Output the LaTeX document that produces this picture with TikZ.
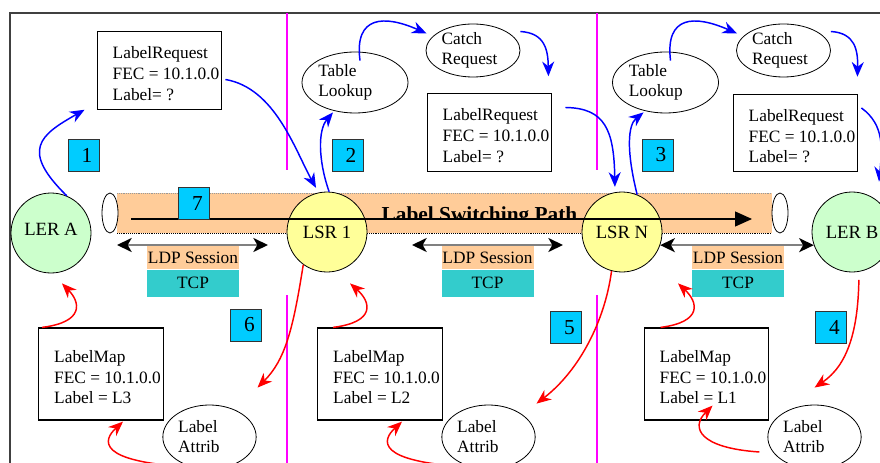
\documentclass[tikz,border=0pt]{standalone}
\usepackage{fontspec}
\setmainfont{Liberation Serif}
\usetikzlibrary{shapes.geometric, arrows.meta, positioning, calc}
\definecolor{lspfill}{HTML}{FFCC99}
\definecolor{numfill}{HTML}{00CCFF}
\definecolor{tcpfill}{HTML}{33CCCC}
\definecolor{lerfill}{HTML}{CCFFCC}
\definecolor{lsrfill}{HTML}{FFFF99}
\definecolor{sepcolor}{HTML}{FF00FF}
\definecolor{reqcolor}{HTML}{0000FF}
\definecolor{mapcolor}{HTML}{FF0000}
\newcommand{\msglines}[1]{\hspace{9.75pt}\begin{tabular}{@{}l@{}}\rule{0pt}{18.3pt}#1\end{tabular}}

\begin{document}
\begin{tikzpicture}[
    x=0.75pt, y=-0.75pt,
    font=\fontsize{13}{15.5}\selectfont,
    ler/.style={circle, draw, line width=0.6pt, fill=lerfill, minimum size=60pt, inner sep=0pt, font=\fontsize{14}{16}\selectfont},
    lsr/.style={circle, draw, line width=0.6pt, fill=lsrfill, minimum size=60pt, inner sep=0pt, font=\fontsize{14}{16}\selectfont},
    msgbox/.style={rectangle, draw, line width=0.9pt, fill=white, minimum width=93.5pt, minimum height=#1, inner sep=0pt},
    msgbox/.default=58pt,
    tblproc/.style={ellipse, draw, line width=0.6pt, fill=white, minimum width=79.5pt, minimum height=45.75pt, inner sep=0pt, text width=55pt, align=left, font=\fontsize{13}{15}\selectfont},
    catchproc/.style={ellipse, draw, line width=0.6pt, fill=white, minimum width=70.5pt, minimum height=39.75pt, inner sep=0pt, text width=47pt, align=left, font=\fontsize{13}{15}\selectfont},
    attrproc/.style={ellipse, draw, line width=0.6pt, fill=white, minimum width=70pt, minimum height=48pt, inner sep=0pt, text width=47pt, align=left, font=\fontsize{13}{15}\selectfont},
    numbox/.style={rectangle, draw=black!80, line width=0.6pt, fill=numfill, minimum width=23.25pt, minimum height=24pt, inner sep=0pt, text width=13pt, align=right, font=\fontsize{16}{18}\selectfont},
    ldpbox/.style={rectangle, fill=lspfill, minimum width=69pt, minimum height=17.25pt, inner sep=0pt},
    tcpbox/.style={rectangle, fill=tcpfill, minimum width=69pt, minimum height=20.25pt, inner sep=0pt},
    tubecap/.style={ellipse, draw, line width=0.6pt, fill=white, minimum width=12pt, minimum height=30pt, inner sep=0pt},
    sepline/.style={line width=0.8pt, draw=sepcolor},
    reqarrow/.style={-{Stealth[length=11pt, width=9pt, inset=3.5pt]}, line width=1.1pt, draw=reqcolor},
    maparrow/.style={-{Stealth[length=11pt, width=9pt, inset=3.5pt]}, line width=1.1pt, draw=mapcolor},
    ldparrow/.style={{Stealth[length=11pt, width=10.5pt, inset=3pt, color=black]}-{Stealth[length=11pt, width=10.5pt, inset=3pt, color=black]}, line width=1.5pt, draw=gray},
    lsparrow/.style={-{Triangle[length=12.75pt, width=11.25pt]}, line width=0.9pt, color=black}
]

\clip (0,0) rectangle (880,463);

% frame and domain separators
\draw[line width=1.2pt, black!75] (10,480) -- (10,13) -- (900,13);
\draw[sepline] (287,13) -- (287,170);
\draw[sepline] (287,295) -- (287,463);
\draw[sepline] (597,13) -- (597,170);
\draw[sepline] (597,295) -- (597,463);

% label switching path tube
\fill[lspfill] (117,193) rectangle (772,233);
\draw[densely dotted, black!40] (117,193) -- (772,193);
\draw[densely dotted] (117,233) -- (772,233);
\node[tubecap] (capL) at (110,213) {};
\node[tubecap] (capR) at (780,213) {};
\begin{scope}
\clip (117,193) rectangle (772,218.5);
\node[font=\fontsize{16}{18}\selectfont\bfseries, anchor=base, inner sep=0pt] (lsptitle) at (479.5,221) {Label Switching Path};
\end{scope}

% routers
\node[ler] (lera) at (51,233) {\raisebox{5pt}{LER A}};
\node[lsr] (lsr1) at (327,232) {LSR 1};
\node[lsr] (lsrn) at (622,232) {LSR N};
\node[ler] (lerb) at (852,232) {LER B};

\coordinate (lspL) at (131,219);
\coordinate (lspR) at (752,219);
\draw[lsparrow] (lspL) -- (lspR);
\node[numbox] (n7) at (194,203.5) {7};

% LDP sessions over TCP
\node[ldpbox] (ldpA) at (193,257.5) {LDP Session};
\node[tcpbox, below=0pt of ldpA] (tcpA) {TCP};
\node[ldpbox] (ldpB) at (487.5,257.5) {LDP Session};
\node[tcpbox, below=0pt of ldpB] (tcpB) {TCP};
\node[ldpbox] (ldpC) at (738,257.5) {LDP Session};
\node[tcpbox, below=0pt of ldpC] (tcpC) {TCP};

\coordinate (ldpAl) at (117,245);
\coordinate (ldpAr) at (268,245);
\coordinate (ldpBl) at (412,245);
\coordinate (ldpBr) at (563,245);
\draw[ldparrow] (ldpAl) -- (ldpAr);
\draw[ldparrow] (ldpBl) -- (ldpBr);
\draw[ldparrow] (lsrn.-19) -- (lerb.199);

% request messages
\node[msgbox] (reqA) at (159.5,70.5) {\msglines{LabelRequest\\FEC = 10.1.0.0\\Label= ?}};
\node[msgbox] (reqB) at (489.5,132.5) {\msglines{LabelRequest\\FEC = 10.1.0.0\\Label= ?}};
\node[msgbox] (reqC) at (795.5,133) {\msglines{LabelRequest\\FEC = 10.1.0.0\\Label= ?}};

% mapping messages
\node[msgbox=69pt] (mapA) at (101,374) {\msglines{LabelMap\\FEC = 10.1.0.0\\Label = L3}};
\node[msgbox=69pt] (mapB) at (380,374) {\msglines{LabelMap\\FEC = 10.1.0.0\\Label = L2}};
\node[msgbox=69pt] (mapC) at (706.5,374) {\msglines{LabelMap\\FEC = 10.1.0.0\\Label = L1}};

% processing steps
\node[tblproc] (look1) at (355,82.5) {Table\\Lookup};
\node[tblproc] (look2) at (665.5,82.5) {Table\\Lookup};
\node[catchproc] (catch1) at (473,50.5) {Catch\\Request};
\node[catchproc] (catch2) at (783.5,50.5) {Catch\\Request};
\node[attrproc] (attrA) at (209.5,437) {Label\\Attrib};
\node[attrproc] (attrB) at (488.5,437) {Label\\Attrib};
\node[attrproc] (attrC) at (814.5,437) {Label\\Attrib};

% step numbers
\node[numbox] (n1) at (83.5,155) {1};
\node[numbox] (n2) at (347.5,155) {2};
\node[numbox] (n3) at (657.5,155) {3};
\node[numbox] (n4) at (831,327.5) {4};
\node[numbox] (n5) at (566,327.5) {5};
\node[numbox] (n6) at (246,325) {6};

% request flow
\draw[reqarrow] (lera.67) .. controls (20,150) and (40,135) .. ($(reqA.south west)+(-12,0)$);
\draw[reqarrow, shorten >=4pt] ($(reqA.east)+(3,9)$) .. controls (275,88) and (295,150) .. (lsr1.102);
\draw[reqarrow] (lsr1.87) .. controls (318,160) and (318,130) .. ($(look1.south)+(-22,-1)$);
\draw[reqarrow] ($(look1.north)+(5,9)$) .. controls (354,15) and (385,15) .. ($(catch1.west)+(1,-17)$);
\draw[reqarrow] ($(catch1.east)+(0,-19)$) .. controls (545,33) and (548,50) .. ($(reqB.north east)+(-4,-17)$);
\draw[reqarrow, shorten >=4pt] ($(reqB.east)+(13,-25)$) .. controls (605,108) and (614,130) .. (lsrn.100);
\draw[reqarrow] (lsrn.68) .. controls (626,150) and (628,125) .. ($(look2.south)+(-22,-1)$);
\draw[reqarrow] ($(look2.north)+(5,9)$) .. controls (665,15) and (695,15) .. ($(catch2.west)+(1,-17)$);
\draw[reqarrow] ($(catch2.east)+(0,-19)$) .. controls (855,33) and (858,50) .. ($(reqC.north east)+(-1,-17)$);
\draw[reqarrow] ($(reqC.east)+(3,-25)$) .. controls (885,125) and (882,150) .. ($(lerb.north)+(27,-10)$);

% mapping flow
\draw[maparrow] (lsr1.234) .. controls (293,330) and (285,360) .. ($(attrA.north)+(48,-17)$);
\draw[maparrow] ($(mapA.north west)+(4,0)$) .. controls (85,322) and (80,302) .. ($(lera.south)+(11,10)$);
\draw[maparrow] (attrA.240) .. controls (95,462) and (103,440) .. ($(mapA.south)+(22,1)$);
\draw[maparrow] (lsrn.-105) .. controls (605,320) and (580,370) .. ($(attrB.north)+(48,-1)$);
\draw[maparrow] ($(mapB.north west)+(16,0)$) .. controls (376,322) and (371,302) .. ($(lsr1.south)+(23,11)$);
\draw[maparrow] (attrB.240) .. controls (374,462) and (382,440) .. ($(mapB.south)+(22,1)$);
\draw[maparrow, shorten <=6pt] (lerb.-80) .. controls (858,330) and (848,365) .. ($(attrC.north)+(0,-17)$);
\draw[maparrow] ($(mapC.north west)+(17,0)$) .. controls (703,322) and (698,302) .. ($(lsrn.south)+(56,11)$);
\draw[maparrow] ($(attrC.west)+(-8,15)$) .. controls (700,448) and (690,428) .. ($(mapC.south)+(6,-15)$);

\end{tikzpicture}
\end{document}
